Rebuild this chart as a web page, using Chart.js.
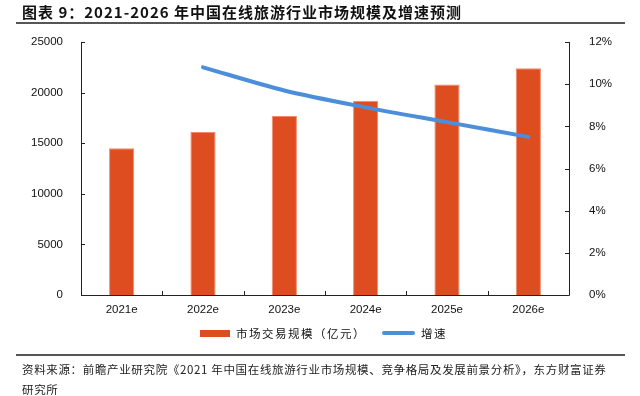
<!DOCTYPE html>
<html>
<head>
<meta charset="utf-8">
<script src="https://cdn.jsdelivr.net/npm/chart.js@4"></script>
<style>
  html,body{margin:0;padding:0;background:#fff;}
  #wrap{position:relative;width:640px;height:396px;overflow:hidden;font-family:"Noto Sans CJK SC",sans-serif;}
  #c{position:absolute;left:0;top:0;}
  .title{position:absolute;left:22px;top:1px;font-size:15px;font-weight:bold;color:#111;white-space:nowrap;letter-spacing:1px;}
  .rule{position:absolute;left:16px;width:609px;background:#555;}
  .src{position:absolute;left:22px;font-size:11.5px;color:#222;white-space:nowrap;letter-spacing:0.65px;}
  .leg{position:absolute;top:325px;font-size:11.5px;color:#111;white-space:nowrap;display:flex;align-items:center;letter-spacing:1.5px;}
  .sw{display:inline-block;margin-right:6px;}
</style>
</head>
<body>
<div id="wrap">
  <canvas id="c" width="640" height="396"></canvas>
  <div class="title">图表 9：2021-2026 年中国在线旅游行业市场规模及增速预测</div>
  <div class="rule" style="top:22px;height:2px;"></div>
  <div class="leg" style="left:200px;"><span class="sw" style="width:30px;height:7px;background:#DD4D1F;"></span>市场交易规模（亿元）</div>
  <div class="leg" style="left:382px;"><span class="sw" style="width:33px;height:4px;background:#4C8EDA;border-radius:2px;"></span>增速</div>
  <div class="rule" style="top:354px;height:2px;"></div>
  <div class="src" style="top:361px;">资料来源：前瞻产业研究院《2021 年中国在线旅游行业市场规模、竞争格局及发展前景分析》，东方财富证券</div>
  <div class="src" style="top:381px;">研究所</div>
</div>
<script>
// 数据
const years = ["2021e","2022e","2023e","2024e","2025e","2026e"];
const marketSize = [14500, 16100, 17700, 19200, 20800, 22400];
const growthRate = [null, 10.8, 9.7, 8.9, 8.2, 7.5];
const leftTicks = [0, 5000, 10000, 15000, 20000, 25000];
const rightTicks = [0, 2, 4, 6, 8, 10, 12];

// 坐标轴线和向内的刻度
const axisPlugin = {
  id: "axisPlugin",
  afterDraw(chart){
    const {ctx, chartArea:a, scales} = chart;
    ctx.save();
    ctx.strokeStyle = "#222";
    ctx.lineWidth = 1;
    ctx.beginPath();
    ctx.moveTo(a.left+0.5, a.top); ctx.lineTo(a.left+0.5, a.bottom+0.5);
    ctx.lineTo(a.right+0.5, a.bottom+0.5); ctx.lineTo(a.right+0.5, a.top);
    leftTicks.forEach(v=>{ const y=Math.round(scales.y.getPixelForValue(v))+0.5; ctx.moveTo(a.left, y); ctx.lineTo(a.left+4, y); });
    rightTicks.forEach(v=>{ const y=Math.round(scales.y1.getPixelForValue(v))+0.5; ctx.moveTo(a.right, y); ctx.lineTo(a.right-4, y); });
    for(let i=0;i<=years.length;i++){
      const x = Math.round(scales.x.getPixelForValue(i-0.5))+0.5;
      ctx.moveTo(x, a.bottom); ctx.lineTo(x, a.bottom-4);
    }
    ctx.stroke();
    ctx.restore();
  }
};

const tickFont = {family:"'Liberation Sans', Arial, sans-serif", size:11.5};

new Chart(document.getElementById("c"), {
  data: {
    labels: years,
    datasets: [
      { type:"line", label:"增速", data: growthRate, yAxisID:"y1", borderColor:"#4C8EDA", borderWidth:4,
        pointRadius:0, tension:0.3, borderCapStyle:"round", order:0 },
      { type:"bar", label:"市场交易规模（亿元）", data: marketSize, yAxisID:"y", backgroundColor:"#DD4D1F",
        borderColor:"#F08A6A", borderWidth:{left:1,right:1,top:1,bottom:0}, barPercentage:0.31, categoryPercentage:1, order:1 }
    ]
  },
  options: {
    responsive:false, animation:false,
    layout:{ padding:{ top:42, left:0, right:0, bottom:0 } },
    plugins:{ legend:{display:false}, tooltip:{enabled:false} },
    scales:{
      x:{ offset:true, grid:{display:false}, border:{display:false},
          ticks:{ color:"#111", font:tickFont, padding:0 },
          afterFit(s){ s.height = 101; } },
      y:{ position:"left", min:0, max:25000, grid:{display:false}, border:{display:false},
          afterBuildTicks(s){ s.ticks = leftTicks.map(v=>({value:v})); },
          ticks:{ color:"#111", font:tickFont, padding:10, callback:v=>String(v) },
          afterFit(s){ s.width = 81; } },
      y1:{ position:"right", min:0, max:12, grid:{display:false}, border:{display:false},
          afterBuildTicks(s){ s.ticks = rightTicks.map(v=>({value:v})); },
          ticks:{ color:"#111", font:tickFont, padding:12, callback:v=>v+"%" },
          afterFit(s){ s.width = 71; } }
    }
  },
  plugins:[axisPlugin]
});
</script>
</body>
</html>
